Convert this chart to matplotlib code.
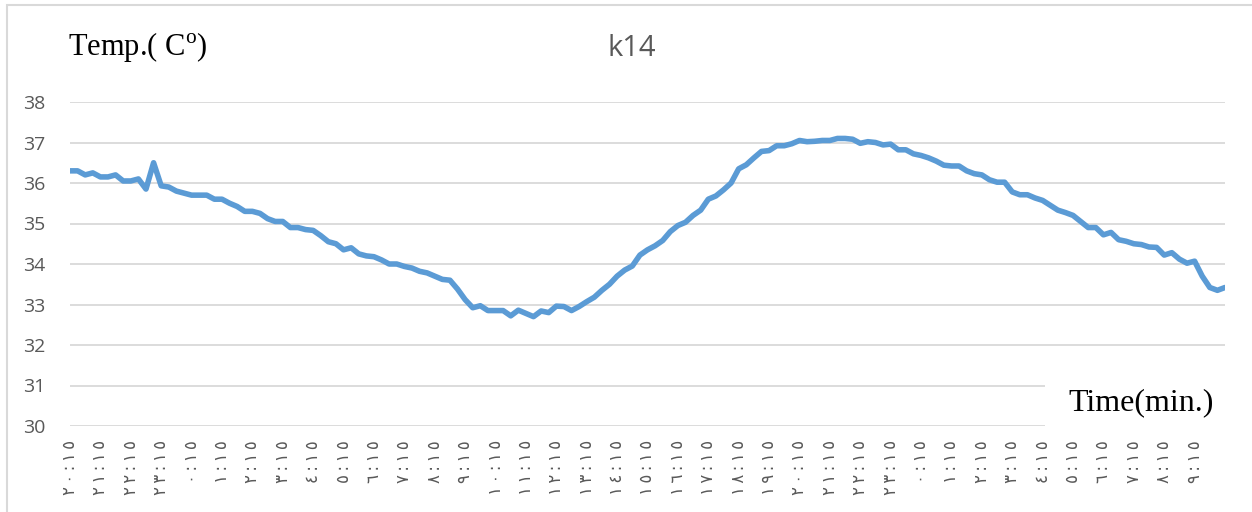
import matplotlib.pyplot as plt
from matplotlib.patches import Rectangle

plt.rcParams["mathtext.fontset"] = "custom"
plt.rcParams["mathtext.rm"] = "Liberation Serif"

# temperature every 15 min, starting 20:15
temp = [
    36.30, 36.30, 36.20, 36.25, 36.15, 36.15, 36.20, 36.05, 36.05, 36.10,
    35.85, 36.50, 35.93, 35.90, 35.80, 35.75, 35.70, 35.70, 35.70, 35.60,
    35.60, 35.50, 35.42, 35.30, 35.30, 35.25, 35.12, 35.05, 35.05, 34.90,
    34.90, 34.85, 34.83, 34.70, 34.55, 34.50, 34.35, 34.40, 34.25, 34.20,
    34.18, 34.10, 34.00, 34.00, 33.94, 33.90, 33.82, 33.78, 33.70, 33.62,
    33.60, 33.38, 33.12, 32.92, 32.97, 32.85, 32.85, 32.85, 32.72, 32.86,
    32.78, 32.70, 32.84, 32.80, 32.96, 32.95, 32.85, 32.95, 33.07, 33.18,
    33.35, 33.50, 33.70, 33.85, 33.95, 34.22, 34.35, 34.45, 34.58, 34.80,
    34.95, 35.03, 35.20, 35.33, 35.60, 35.68, 35.83, 36.00, 36.35, 36.45,
    36.62, 36.78, 36.80, 36.92, 36.92, 36.97, 37.05, 37.02, 37.03, 37.05,
    37.05, 37.10, 37.10, 37.08, 36.98, 37.02, 37.00, 36.94, 36.96, 36.82,
    36.82, 36.72, 36.68, 36.62, 36.54, 36.44, 36.42, 36.42, 36.30, 36.23,
    36.20, 36.08, 36.02, 36.02, 35.78, 35.71, 35.71, 35.63, 35.57, 35.45,
    35.33, 35.27, 35.20, 35.05, 34.90, 34.90, 34.72, 34.78, 34.60, 34.56,
    34.50, 34.48, 34.42, 34.41, 34.22, 34.28, 34.12, 34.02, 34.07, 33.70,
    33.42, 33.35, 33.42,
]

# hour labels (one every 4 samples), 20:15 ... 9:15 next next day
hours = [20, 21, 22, 23] + list(range(24)) + list(range(10))
arabic = str.maketrans("0123456789", "٠١٢٣٤٥٦٧٨٩")
tick_labels = ["\u2009".join(("%d:15" % h).translate(arabic)) for h in hours]
yticks = [30, 31, 32, 33, 34, 35, 36, 37, 38]

fig = plt.figure(figsize=(12.52, 5.12), dpi=100)
ax = fig.add_axes([70 / 1252, 1 - 426 / 512, 1155 / 1252, 324 / 512])

x = list(range(len(temp)))
ax.plot(x, temp, color="#5b9bd5", lw=4, solid_joinstyle="round",
        solid_capstyle="round", zorder=3)

ax.set_xlim(0, len(temp) - 1)
ax.set_ylim(30, 38)
ax.set_yticks(yticks)
ax.set_yticklabels([str(v) for v in yticks], fontsize=14, color="#595959",
                   family="Open Sans")
ax.set_xticks(list(range(0, 4 * len(hours), 4)))
ax.set_xticklabels(tick_labels, rotation=90, fontsize=12, color="#595959",
                   family="DejaVu Sans", va="top")
ax.tick_params(axis="both", length=0)
ax.tick_params(axis="x", pad=10)
ax.tick_params(axis="y", pad=18)
ax.grid(axis="y", color="#d9d9d9", lw=1.3)
ax.set_axisbelow(True)
for s in ax.spines.values():
    s.set_visible(False)

fig.text(632 / 1252, 1 - 48 / 512, "k14", ha="center", va="center",
         fontsize=21, color="#595959", family="Open Sans")
fig.text(68 / 1252, 1 - 47 / 512, r"Temp.( C$^{\mathrm{o}}$)", ha="left",
         va="center", fontsize=22, family="Liberation Serif")
fig.text(1068 / 1252, 1 - 403 / 512, "Time(min.)", ha="left", va="center",
         fontsize=23, family="Liberation Serif", zorder=5)
fig.patches.append(Rectangle((1045 / 1252, 1 - 433 / 512), 0.2, 60 / 512,
                             transform=fig.transFigure, facecolor="white",
                             edgecolor="none", zorder=4))

# chart border
fig.patches.append(Rectangle((7 / 1252, -0.1), 1.2, 1 - 5 / 512 + 0.1,
                             transform=fig.transFigure, facecolor="none",
                             edgecolor="#d9d9d9", lw=1.5, zorder=6))

fig.savefig("out.png", dpi=100)
